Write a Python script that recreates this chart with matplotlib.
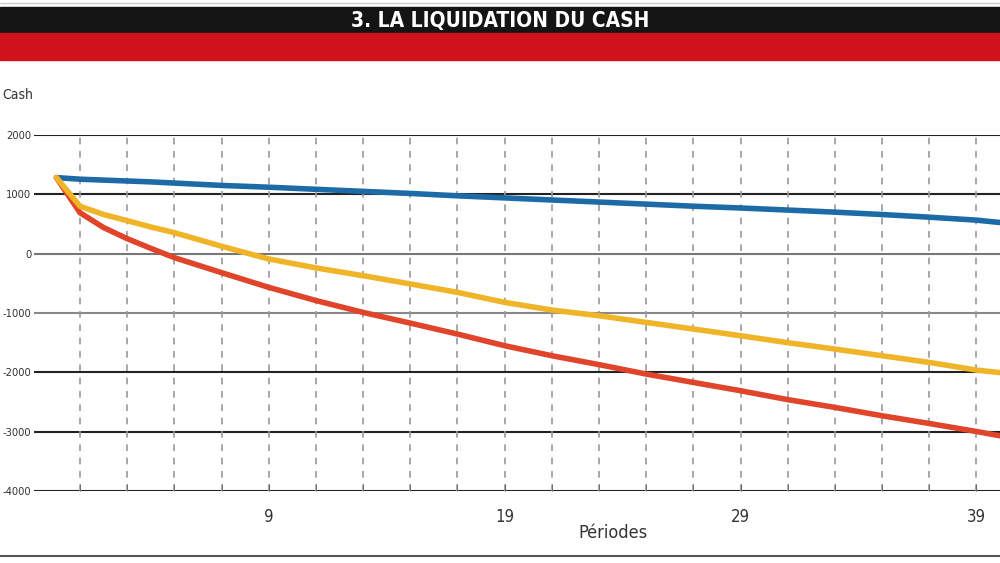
import matplotlib.pyplot as plt
from matplotlib.patches import Rectangle
from matplotlib.ticker import FixedLocator

# Donnees
periodes = [0, 1, 2, 3, 4, 5, 7, 9, 11, 13, 15, 17, 19, 21, 23, 25, 27, 29, 31, 33, 35, 37, 39, 40]
cash_bleu = [1282, 1255, 1240, 1225, 1210, 1190, 1150, 1120, 1085, 1050, 1015, 975, 940,
             905, 870, 835, 800, 770, 735, 700, 660, 615, 565, 525]
cash_jaune = [1282, 800, 660, 556, 450, 354, 125, -89, -240, -371, -510, -652, -821,
              -950, -1046, -1158, -1270, -1383, -1500, -1608, -1720, -1833, -1962, -2005]
cash_rouge = [1282, 690, 440, 253, 90, -67, -320, -568, -790, -990, -1170, -1355, -1551,
              -1720, -1870, -2029, -2170, -2310, -2460, -2591, -2732, -2862, -2997, -3069]

y_ticks = [2000, 1000, 0, -1000, -2000, -3000, -4000]
y_labels = ['2000', '1000', '0', '-1000', '-2000', '-3000', '-4000']
x_ticks = [9, 19, 29, 39]
x_minor = list(range(1, 41, 2))

titre = '3. LA LIQUIDATION DU CASH'
police = 'DejaVu Sans'
H = 563

fig = plt.figure(figsize=(10, 5.63), dpi=100)

# Bandeau du titre
fig.add_artist(plt.Line2D([0, 1], [1 - 3 / H, 1 - 3 / H], color='#cccccc', lw=1))
fig.patches.append(Rectangle((0, 1 - 33 / H), 1, 26 / H, transform=fig.transFigure,
                             color='#141414', zorder=0))
fig.patches.append(Rectangle((0, 1 - 60 / H), 1, 27 / H, transform=fig.transFigure,
                             color='#d0121d', zorder=0))
fig.text(0.5, 1 - 21 / H, titre, color='white', ha='center', va='center',
         fontsize=15, fontweight='bold', family=police, fontstretch='condensed')

ax = fig.add_axes([0.034, 1 - 491 / H, 0.966, (491 - 135) / H])

# Lignes horizontales
couleurs_h = ['#222222', '#222222', '#777777', '#888888', '#222222', '#222222', '#222222']
for y, c in zip(y_ticks, couleurs_h):
    ax.axhline(y, color=c, lw=1.5, zorder=1)

# Lignes verticales en pointilles
for x in x_minor:
    ax.axvline(x, color='#9a9a9a', lw=1.2, dashes=(4, 4), zorder=1)

ax.plot(periodes, cash_bleu, color='#1c6aa6', lw=4, solid_capstyle='round', zorder=3)
ax.plot(periodes, cash_rouge, color='#e0442a', lw=4, solid_capstyle='round', zorder=3)
ax.plot(periodes, cash_jaune, color='#f0b429', lw=4, solid_capstyle='round', zorder=4)

ax.set_xlim(-0.95, 40)
ax.set_ylim(-4000, 2000)

for s in ax.spines.values():
    s.set_visible(False)

ax.set_yticks(y_ticks)
ax.set_yticklabels(y_labels, family=police, fontstretch='condensed', fontsize=8,
                   color='#333333')
ax.tick_params(axis='y', length=0, pad=2)

ax.set_xticks(x_ticks)
ax.set_xticklabels([str(t) for t in x_ticks], family=police, fontstretch='condensed',
                   fontsize=12, color='#333333')
ax.xaxis.set_minor_locator(FixedLocator(x_minor))
ax.tick_params(axis='x', which='both', direction='in', length=5, color='#666666', pad=12)

fig.text(2 / 1000, 1 - 95 / H, 'Cash', ha='left', va='center',
         fontsize=10, family=police, fontstretch='condensed', color='#333333')
fig.text(0.613, 1 - 533 / H, 'Périodes', ha='center', va='center',
         fontsize=13, family=police, fontstretch='condensed', color='#333333')

# Ligne du bas
fig.add_artist(plt.Line2D([0, 1], [1 - 556 / H, 1 - 556 / H], color='#555555', lw=1.5))

fig.savefig('out.png', dpi=100)
